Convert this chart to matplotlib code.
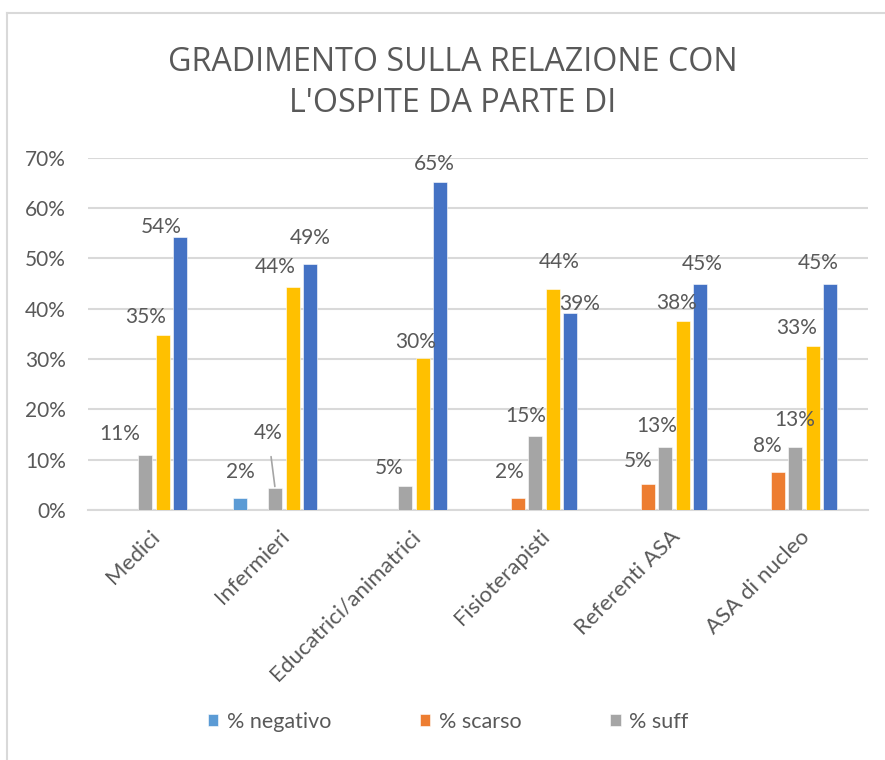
import matplotlib
matplotlib.use("Agg")
import matplotlib.pyplot as plt
from matplotlib.lines import Line2D
import matplotlib.transforms as mtransforms
import numpy as np

# ---------------- data ----------------
categories = ["Medici", "Infermieri", "Educatrici/animatrici", "Fisioterapisti",
              "Referenti ASA", "ASA di nucleo"]
series_names = ["% negativo", "% scarso", "% suff", "% buono", "% ottimo", "% n.r."]
neg    = [0.0, 2.3, 0.0, 0.0, 0.0, 0.0]
scarso = [0.0, 0.0, 0.0, 2.4, 5.1, 7.6]
suff   = [10.9, 4.4, 4.8, 14.7, 12.6, 12.6]
buono  = [34.8, 44.4, 30.3, 43.9, 37.6, 32.6]
ottimo = [54.3, 48.8, 65.1, 39.1, 44.9, 44.9]
nr     = [0.0, 0.0, 0.0, 0.0, 0.0, 0.0]
yticks = [0, 10, 20, 30, 40, 50, 60, 70]

# label offsets (pixels, relative to bar top centre) - layout only
label_offsets = [
    [None, (0, -26), None, None, None, None],
    [None, None, None, (-8, -26), (-9, -23), (-10, -26)],
    [(-25, -21), (-7, -55), (-16, -18), (-9, -20), (-8, -21), (0, -27)],
    [(-17, -18), (-17, -20), (-7, -16), (7, -27), (-6, -18), (-16, -18)],
    [(-19, -10), (0, -26), (-6, -18), (10, -9), (2, -20), (-12, -21)],
    [None] * 6,
]
leader = (2, 1)  # (series, category) label with a leader line

colors = ["#5B9BD5", "#ED7D31", "#A5A5A5", "#FFC000", "#4472C4", "#70AD47"]
txt = "#595959"
grid_c = "#D9D9D9"
FONT = "Lato"

W, H = 885, 760
fig = plt.figure(figsize=(W / 100, H / 100), dpi=100)
fig.patch.set_facecolor("white")

ax = fig.add_axes([88 / W, 1 - 510 / H, (868 - 88) / W, (510 - 157.7) / H])
ax.set_facecolor("white")

data = [neg, scarso, suff, buono, ottimo, nr]
x = np.arange(len(categories))
step = 17.5 / 130
width = 14 / 130
handles = []
for i, (vals, name, col) in enumerate(zip(data, series_names, colors)):
    pos = x + (i - 2.5) * step
    b = ax.bar(pos, vals, width=width, color=col, label=name, zorder=3,
               edgecolor="white", linewidth=0.4)
    handles.append(b)
    for j, v in enumerate(vals):
        off = label_offsets[i][j]
        if v <= 0 or off is None:
            continue
        lab = f"{int(v + 0.5)}%"
        kw = {}
        if (i, j) == leader:
            kw = dict(arrowprops=dict(arrowstyle="-", color="#A5A5A5", lw=1.2,
                                      shrinkA=8, shrinkB=1))
        ax.annotate(lab, xy=(pos[j], v), xytext=(off[0], -off[1]),
                    textcoords="offset pixels", ha="center", va="center",
                    fontsize=15, color=txt, family=FONT, zorder=5, **kw)

ax.set_xlim(-0.506, 5.494)
ax.set_ylim(0, 70)
ax.set_yticks(yticks)
ax.set_yticklabels([f"{t}%" for t in yticks])
ax.yaxis.grid(True, color=grid_c, linewidth=1.5, zorder=0)
ax.set_axisbelow(True)
for s in ["top", "right", "left"]:
    ax.spines[s].set_visible(False)
ax.spines["bottom"].set_color(grid_c)
ax.spines["bottom"].set_linewidth(1.5)
ax.tick_params(axis="y", length=0, pad=16, labelsize=15, labelcolor=txt)
ax.tick_params(axis="x", length=0, pad=17, labelsize=16, labelcolor=txt)
for lbl in ax.get_yticklabels():
    lbl.set_family(FONT)

ax.set_xticks(x)
ax.set_xticklabels(categories, rotation=45, ha="right", va="center",
                   rotation_mode="anchor", family=FONT)
offset = mtransforms.ScaledTranslation(3 / 100, 0, fig.dpi_scale_trans)
for lbl in ax.get_xticklabels():
    lbl.set_transform(lbl.get_transform() + offset)

# title
fig.text(453 / W, 1 - 83 / H, "GRADIMENTO SULLA RELAZIONE CON\nL'OSPITE DA PARTE DI",
         ha="center", va="center", fontsize=23.2, color=txt, family="Open Sans",
         linespacing=1.3)

# legend (only first three entries visible)
fig.legend(handles[:3], series_names[:3], loc="center",
           bbox_to_anchor=(448 / W, 1 - 722 / H), ncol=3, frameon=False,
           labelcolor=txt, handlelength=0.5, handleheight=0.5,
           handletextpad=0.4, columnspacing=4.1, prop={"family": FONT, "size": 15.5})

# chart border (top and left edges visible)
fig.lines.append(Line2D([7 / W, 1], [1 - 13 / H, 1 - 13 / H], transform=fig.transFigure,
                        color=grid_c, linewidth=1.5))
fig.lines.append(Line2D([7 / W, 7 / W], [0, 1 - 13 / H], transform=fig.transFigure,
                        color=grid_c, linewidth=1.5))

fig.savefig("out.png", dpi=100, facecolor="white")
